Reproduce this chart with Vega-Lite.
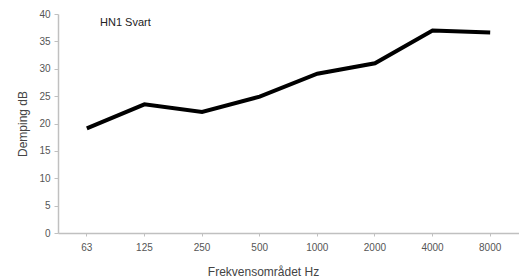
{
  "$schema": "https://vega.github.io/schema/vega-lite/v6.json",
  "width": 461,
  "height": 219,
  "autosize": {"type": "none"},
  "padding": {"left": 58, "top": 14, "right": 0, "bottom": 45},
  "background": "white",
  "title": {
    "text": "HN1 Svart",
    "anchor": "start",
    "frame": "group",
    "orient": "top",
    "baseline": "middle",
    "offset": 0,
    "dx": 42,
    "dy": 25,
    "font": "Liberation Sans",
    "fontSize": 11,
    "fontWeight": "normal",
    "color": "#222222"
  },
  "data": {
    "values": [
      {"freq": "63", "db": 19.1},
      {"freq": "125", "db": 23.5},
      {"freq": "250", "db": 22.1},
      {"freq": "500", "db": 24.9},
      {"freq": "1000", "db": 29.1},
      {"freq": "2000", "db": 31.0},
      {"freq": "4000", "db": 37.0},
      {"freq": "8000", "db": 36.6}
    ]
  },
  "config": {
    "view": {"stroke": null},
    "axis": {
      "grid": false,
      "domainColor": "#c0c0c0",
      "tickColor": "#c0c0c0",
      "domainWidth": 1.5,
      "labelFont": "Liberation Sans",
      "labelFontSize": 10,
      "labelColor": "#555555",
      "titleFont": "Liberation Sans",
      "titleFontSize": 12,
      "titleFontWeight": "normal",
      "titleColor": "#444444"
    }
  },
  "mark": {"type": "line", "color": "black", "strokeWidth": 4, "strokeJoin": "miter", "strokeCap": "butt"},
  "encoding": {
    "x": {
      "field": "freq",
      "type": "ordinal",
      "sort": null,
      "scale": {"type": "band", "paddingInner": 0, "paddingOuter": 0},
      "axis": {
        "title": "Frekvensområdet Hz",
        "labelAngle": 0,
        "tickSize": 3,
        "labelPadding": 6,
        "titlePadding": 14,
        "titleX": 205,
        "titleAlign": "center"
      }
    },
    "y": {
      "field": "db",
      "type": "quantitative",
      "scale": {"domain": [0, 40], "nice": false},
      "axis": {
        "title": "Demping dB",
        "values": [0, 5, 10, 15, 20, 25, 30, 35, 40],
        "tickSize": 4,
        "labelPadding": 4,
        "titlePadding": 9
      }
    }
  }
}
